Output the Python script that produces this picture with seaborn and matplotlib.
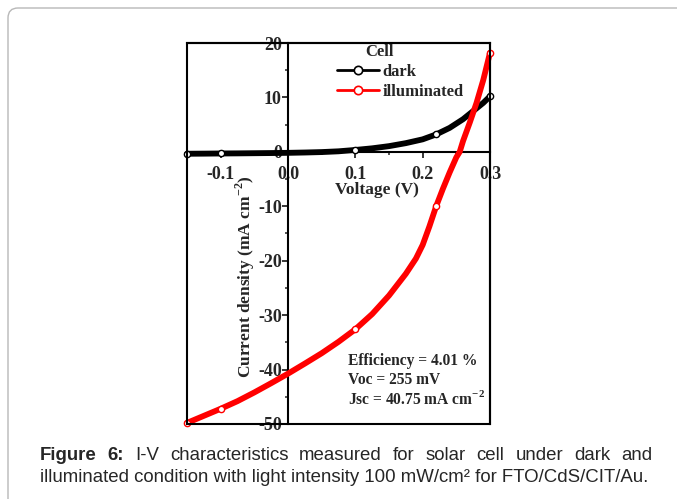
import matplotlib
matplotlib.use("Agg")
import numpy as np
import pandas as pd
import matplotlib.pyplot as plt
import seaborn as sns
from matplotlib.lines import Line2D
from matplotlib.patches import FancyBboxPatch, Rectangle
from matplotlib.ticker import MultipleLocator, FixedLocator
from matplotlib.transforms import IdentityTransform

# ---------------- data ----------------
voltage_dark = [-0.15, -0.125, -0.1, -0.075, -0.05, -0.025, 0.0, 0.025, 0.05, 0.075,
                0.1, 0.125, 0.15, 0.175, 0.2, 0.22, 0.24, 0.26, 0.275, 0.29, 0.3]
current_dark = [-0.35, -0.33, -0.3, -0.28, -0.25, -0.22, -0.18, -0.12, -0.04, 0.1,
                0.35, 0.65, 1.05, 1.6, 2.3, 3.2, 4.4, 6.0, 7.5, 9.0, 10.2]
dark_marker_idx = [0, 2, 10, 15, 20]

voltage_ill = [-0.15, -0.125, -0.1, -0.075, -0.05, -0.025, 0.0, 0.025, 0.05, 0.075,
               0.1, 0.125, 0.15, 0.175, 0.19, 0.2, 0.21, 0.22, 0.23, 0.24, 0.25, 0.255,
               0.26, 0.27, 0.28, 0.29, 0.3]
current_ill = [-49.8, -48.5, -47.2, -45.8, -44.2, -42.5, -40.75, -38.9, -37.0, -34.9,
               -32.6, -29.8, -26.4, -22.4, -19.6, -17.1, -13.7, -10.0, -6.8, -3.8, -1.0,
               0.0, 2.0, 5.4, 9.0, 13.2, 18.2]
ill_marker_idx = [0, 2, 10, 17, 26]

series_names = ["dark", "illuminated"]
series_colors = ["black", "red"]

x_ticks = [-0.1, 0.0, 0.1, 0.2, 0.3]
x_tick_labels = ["-0.1", "0.0", "0.1", "0.2", "0.3"]
y_ticks = [20, 10, 0, -10, -20, -30, -40, -50]

x_label = "Voltage (V)"
y_label = r"Current density (mA cm$^{\mathbf{-2}}$)"
legend_title = "Cell"
info_lines = ["Efficiency = 4.01 %", "Voc = 255 mV", r"Jsc = 40.75 mA cm$^{\mathbf{-2}}$"]
caption_line1 = ["Figure", "6:", "I-V", "characteristics", "measured", "for", "solar",
                 "cell", "under", "dark", "and"]
caption_line2 = "illuminated condition with light intensity 100 mW/cm\u00b2 for FTO/CdS/CIT/Au."

# ---------------- style ----------------
sns.set_style("white")
plt.rcParams["font.family"] = ["Liberation Serif", "DejaVu Serif"]
plt.rcParams["font.weight"] = "bold"
plt.rcParams["mathtext.fontset"] = "custom"
plt.rcParams["mathtext.rm"] = "Liberation Serif:bold"
plt.rcParams["mathtext.bf"] = "Liberation Serif:bold"
plt.rcParams["axes.unicode_minus"] = False

W, H = 677, 499
fig = plt.figure(figsize=(W / 100, H / 100), dpi=100)
fig.patch.set_facecolor("white")

# outer rounded border
border = FancyBboxPatch((8, -60), 900, (H - 8) + 60,
                        boxstyle="round,pad=0,rounding_size=10",
                        transform=IdentityTransform(), fill=False,
                        edgecolor="#b8b8b8", linewidth=1.0)
fig.patches.append(border)

ax = fig.add_axes([187 / W, 1 - 424 / H, 303 / W, 381 / H])
ax.set_facecolor("white")

df_dark = pd.DataFrame({"Voltage": voltage_dark, "Current": current_dark})
df_ill = pd.DataFrame({"Voltage": voltage_ill, "Current": current_ill})

sns.lineplot(data=df_dark, x="Voltage", y="Current", ax=ax, color=series_colors[0],
             linewidth=4.2, sort=False, estimator=None, marker="o",
             markevery=dark_marker_idx, markersize=4.5, markerfacecolor="white",
             markeredgecolor=series_colors[0], markeredgewidth=1.0, legend=False,
             clip_on=False, zorder=3)
sns.lineplot(data=df_ill, x="Voltage", y="Current", ax=ax, color=series_colors[1],
             linewidth=4.2, sort=False, estimator=None, marker="o",
             markevery=ill_marker_idx, markersize=4.5, markerfacecolor="white",
             markeredgecolor=series_colors[1], markeredgewidth=1.0, legend=False,
             clip_on=False, zorder=4)

ax.set_xlim(-0.15, 0.3)
ax.set_ylim(-50, 20)

# axes through origin
ax.spines["left"].set_position(("data", 0))
ax.spines["bottom"].set_position(("data", 0))
for s in ["left", "bottom", "top", "right"]:
    ax.spines[s].set_linewidth(1.5)
    ax.spines[s].set_color("black")
ax.add_patch(Rectangle((0, 0), 1, 1, transform=ax.transAxes, fill=False,
                       edgecolor="black", linewidth=1.5, clip_on=False, zorder=5))

ax.xaxis.set_major_locator(FixedLocator(x_ticks))
ax.set_xticklabels(x_tick_labels)
ax.xaxis.set_minor_locator(MultipleLocator(0.05))
ax.yaxis.set_major_locator(FixedLocator(y_ticks))
ax.set_yticklabels([str(v) for v in y_ticks])
ax.yaxis.set_minor_locator(MultipleLocator(5))
ax.tick_params(axis="x", which="major", direction="out", length=4, width=1.3,
               pad=6, labelsize=13, bottom=True, top=False)
ax.tick_params(axis="x", which="minor", direction="out", length=2.5, width=1.1,
               bottom=True, top=False)
ax.tick_params(axis="y", which="major", direction="out", length=4, width=1.3,
               pad=0.5, labelsize=13, left=True, right=False)
ax.tick_params(axis="y", which="minor", direction="out", length=2.5, width=1.1,
               left=True, right=False)
for lab in ax.get_xticklabels() + ax.get_yticklabels():
    lab.set_fontweight("bold")

ax.set_xlabel(x_label, fontsize=12.5, fontweight="bold")
ax.xaxis.set_label_coords((377 - 187) / 303, (424 - 190) / 381)
ax.xaxis.label.set_va("center")
ax.set_ylabel(y_label, fontsize=12.5, fontweight="bold")
ax.yaxis.set_label_coords((245 - 187) / 303, (424 - 277) / 381)
ax.yaxis.label.set_va("center")

# legend (title placed over the entries as in the reference)
handles = [Line2D([], [], color=c, linewidth=2, marker="o", markersize=6,
                  markerfacecolor="white", markeredgecolor=c, markeredgewidth=1.2)
           for c in series_colors]
leg = ax.legend(handles, series_names, loc="upper left",
                bbox_to_anchor=((337 - 187) / 303, (424 - 64) / 381),
                frameon=False, fontsize=12, handlelength=2.5, handletextpad=0.25,
                labelspacing=0.22, borderpad=0, borderaxespad=0, numpoints=1)
for t in leg.get_texts():
    t.set_fontweight("bold")
ax.text((379 - 187) / 303, (424 - 52) / 381, legend_title, transform=ax.transAxes,
        fontsize=12, fontweight="bold", ha="center", va="center")

# efficiency info
info_y = [365, 383.5, 403.5]
for txt, yp in zip(info_lines, info_y):
    ax.text((348 - 187) / 303, (424 - yp) / 381, txt, transform=ax.transAxes,
            fontsize=11.2, fontweight="bold", ha="left", va="baseline", zorder=6)

# ---------------- caption ----------------
cap_font = ["Liberation Sans", "DejaVu Sans"]
fig.canvas.draw()
renderer = fig.canvas.get_renderer()
probe = fig.text(0, 0, caption_line2, fontsize=12, family=cap_font, fontweight="normal")
w_probe = probe.get_window_extent(renderer).width
probe.remove()
cap_size = 12 * 609 / w_probe

fig.text(40 / W, 1 - 481.7 / H, caption_line2, fontsize=cap_size, family=cap_font,
         fontweight="normal", ha="left", va="baseline")

word_objs = []
for i, wd in enumerate(caption_line1):
    t = fig.text(0, 1 - 460 / H, wd, fontsize=cap_size, family=cap_font,
                 fontweight="bold" if i < 2 else "normal", ha="left", va="baseline")
    word_objs.append(t)
fig.canvas.draw()
widths = [t.get_window_extent(renderer).width for t in word_objs]
x0, x1 = 40, 652
gap = (x1 - x0 - sum(widths)) / (len(widths) - 1)
xp = x0
for t, w in zip(word_objs, widths):
    t.set_x(xp / W)
    xp += w + gap

fig.savefig("out.png", dpi=100)
